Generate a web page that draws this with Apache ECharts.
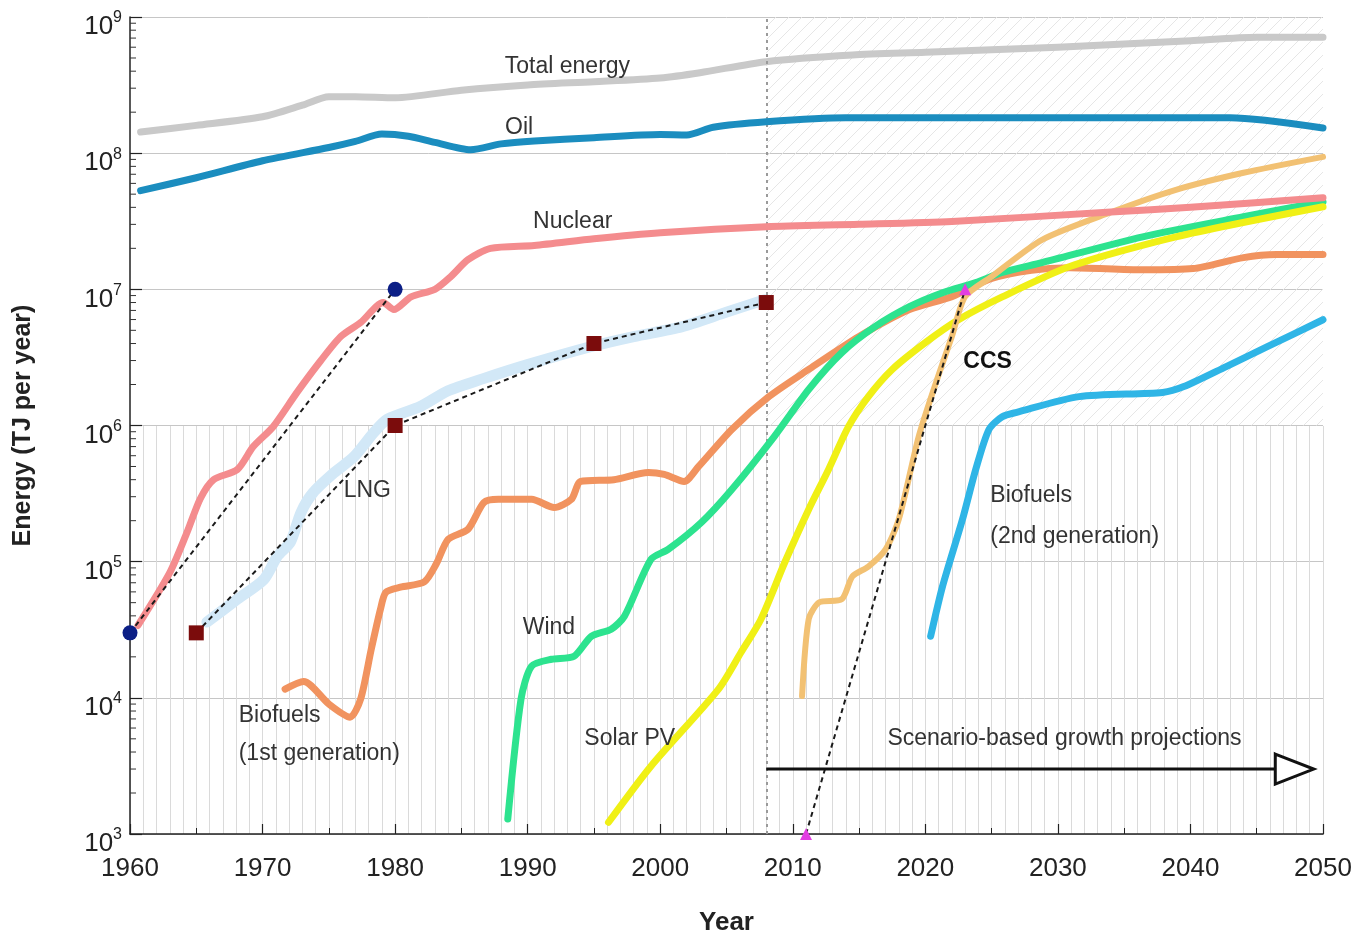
<!DOCTYPE html>
<html>
<head>
<meta charset="utf-8">
<script src="https://cdn.jsdelivr.net/npm/echarts@6/dist/echarts.min.js"></script>
<style>
  html, body { margin: 0; padding: 0; background: #fff; }
  #chart { width: 1355px; height: 941px; }
</style>
</head>
<body>
<div id="chart"></div>
<script>
// ---- Energy supply histories and projections, [year, TJ per year] ----
const totalEnergy = [[1960.8,1.43e8],[1965,1.6e8],[1970,1.85e8],[1973,2.25e8],[1975,2.6e8],[1977,2.6e8],[1980,2.55e8],[1985,2.9e8],[1990,3.17e8],[1995,3.35e8],[2000,3.57e8],[2003,3.9e8],[2008,4.7e8],[2014.5,5.26e8],[2020,5.5e8],[2030,6.0e8],[2040,6.7e8],[2045,7.1e8],[2050,7.1e8]];
const oil = [[1960.8,5.3e7],[1965,6.6e7],[1970,8.8e7],[1975,1.1e8],[1977,1.22e8],[1979,1.38e8],[1981,1.33e8],[1983,1.2e8],[1985.7,1.06e8],[1988,1.17e8],[1990.5,1.23e8],[1995,1.3e8],[2000,1.37e8],[2002,1.36e8],[2004,1.55e8],[2008,1.7e8],[2014,1.82e8],[2043,1.82e8],[2050,1.53e8]];
const nuclear = [[1960.6,3.4e4],[1963,8.3e4],[1964.3,1.64e5],[1965.3,2.9e5],[1966.3,4.0e5],[1968.1,4.75e5],[1969.3,7.0e5],[1970.8,9.8e5],[1972.6,1.75e6],[1974.4,3.0e6],[1975.9,4.5e6],[1977.4,5.7e6],[1979.1,8.0e6],[1979.9,7.1e6],[1981.2,8.8e6],[1983,1.0e7],[1984.2,1.24e7],[1985.5,1.65e7],[1987.2,2.0e7],[1990.5,2.1e7],[1995,2.35e7],[2000,2.6e7],[2008,2.88e7],[2015,3.0e7],[2022,3.15e7],[2034,3.7e7],[2040,4.0e7],[2050,4.7e7]];
const lng = [[1965.8,3.6e4],[1968.1,5.3e4],[1970.1,7.4e4],[1971.1,1.09e5],[1972.1,1.39e5],[1972.9,2.3e5],[1973.8,3.2e5],[1975.4,4.5e5],[1976.9,5.9e5],[1978.4,8.9e5],[1979.4,1.11e6],[1981.9,1.38e6],[1984,1.8e6],[1986.6,2.2e6],[1990,2.8e6],[1994.8,3.8e6],[1998,4.5e6],[2001.6,5.3e6],[2005,6.8e6],[2007.9,8.4e6]];
const biofuels1 = [[1971.7,1.16e4],[1973.1,1.32e4],[1975,9.0e3],[1976.6,7.2e3],[1977.4,9.8e3],[1978.2,2.27e4],[1978.9,4.5e4],[1979.3,5.96e4],[1980.4,6.5e4],[1982.2,7.1e4],[1983.1,9.6e4],[1984,1.46e5],[1985.5,1.73e5],[1986.7,2.72e5],[1987.8,2.87e5],[1990.3,2.87e5],[1992,2.5e5],[1993.3,2.87e5],[1994,3.88e5],[1996.5,4.0e5],[1999.1,4.52e5],[2000.3,4.37e5],[2001.8,3.88e5],[2002.9,5.0e5],[2005.4,9.35e5],[2008.2,1.63e6],[2011.2,2.58e6],[2015,4.5e6],[2018.8,7.1e6],[2022,8.84e6],[2025,1.2e7],[2028,1.38e7],[2030.9,1.44e7],[2036.4,1.39e7],[2040.2,1.42e7],[2044,1.71e7],[2046.5,1.8e7],[2050,1.8e7]];
const wind = [[1988.5,1.29e3],[1989.5,9.8e3],[1990.3,1.71e4],[1991.8,1.92e4],[1993.5,2.02e4],[1994.8,2.83e4],[1996.3,3.19e4],[1997.3,3.97e4],[1999.3,1.04e5],[2000.6,1.23e5],[2003.1,1.94e5],[2005.4,3.39e5],[2008.6,8.3e5],[2011.2,1.84e6],[2013.7,3.43e6],[2016.2,5.32e6],[2018.8,7.46e6],[2021.3,9.45e6],[2023.8,1.12e7],[2025.8,1.33e7],[2028.8,1.57e7],[2036.4,2.43e7],[2044,3.41e7],[2050,4.4e7]];
const solarPV = [[1996.1,1.22e3],[1999.3,3.15e3],[2004.4,1.16e4],[2006.1,2.16e4],[2007.6,3.78e4],[2009.4,9.9e4],[2011.2,2.42e5],[2012.7,4.76e5],[2014.2,9.8e5],[2015.7,1.63e6],[2017.5,2.58e6],[2020,4.06e6],[2022.5,5.98e6],[2025.8,8.8e6],[2030.9,1.47e7],[2038.9,2.43e7],[2050,4.04e7]];
const ccs = [[2010.7,1.03e4],[2011.2,3.78e4],[2012,5.03e4],[2013.7,5.3e4],[2014.5,7.8e4],[2015.7,9.2e4],[2017,1.23e5],[2018,2.05e5],[2019.5,8.3e5],[2020.7,1.93e6],[2022,4.5e6],[2023,8.84e6],[2025,1.24e7],[2028.8,2.31e7],[2033.9,3.65e7],[2038.9,5.38e7],[2044,7.18e7],[2050,9.4e7]];
const biofuels2 = [[2020.4,2.83e4],[2021.3,6.6e4],[2022.8,2.04e5],[2023.8,4.75e5],[2024.8,9.35e5],[2025.8,1.16e6],[2026.9,1.25e6],[2031.6,1.63e6],[2037.9,1.75e6],[2039.5,1.93e6],[2042.7,2.71e6],[2045.8,3.79e6],[2050,5.98e6]];

// ---- Growth-rate guide lines through reference points ----
const nuclearTrend = [[1960,3e4],[1980,1e7]];
const lngTrend = [[1965,3e4],[1980,1e6],[1995,4e6],[2008,8e6]];
const ccsTrend = [[2011,1e3],[2023,1e7]];

// ---- Axis ranges ----
const yearMin = 1960, yearMax = 2050, yearStep = 10;
const energyMin = 1e3, energyMax = 1e9;
const projectionStart = 2008;

const FONT = '"Liberation Sans", Arial, Helvetica, sans-serif';

// log-axis minor ticks (2..9 of each decade) on the left frame
const minorTickValues = [];
for (let d = 3; d < 9; d++) {
  for (let k = 2; k <= 9; k++) minorTickValues.push([yearMin, k * Math.pow(10, d)]);
}

// diagonal hatch tile for the projection region
const hatch = document.createElement('canvas');
hatch.width = 13; hatch.height = 13;
(function () {
  const c = hatch.getContext('2d');
  c.strokeStyle = '#e6e6e6';
  c.lineWidth = 1;
  c.beginPath();
  c.moveTo(-1, 14); c.lineTo(14, -1);
  c.moveTo(-2, 2); c.lineTo(2, -2);
  c.moveTo(11, 15); c.lineTo(15, 11);
  c.stroke();
})();

function curve(name, data, color, width, z) {
  return {
    name, type: 'line', data, z,
    xAxisIndex: 0, yAxisIndex: 0,
    showSymbol: false, smooth: 0.25,
    lineStyle: { color, width, cap: 'round', join: 'round' },
    silent: true
  };
}
function trend(name, data, symbol, color, size) {
  return {
    name, type: 'line', data, z: 20,
    xAxisIndex: 0, yAxisIndex: 0,
    symbol, symbolSize: size, showSymbol: true, clip: false,
    itemStyle: { color },
    lineStyle: { color: '#1a1a1a', width: 2, type: [5, 4] },
    silent: true
  };
}

const chart = echarts.init(document.getElementById('chart'), null, { renderer: 'canvas' });

chart.setOption({
  animation: false,
  backgroundColor: '#ffffff',
  grid: [
    { left: 130, right: 32, top: 17, bottom: 106 },
    { left: 130, right: 32, top: 426, bottom: 106 }
  ],
  xAxis: [
    {
      gridIndex: 0, type: 'value', min: yearMin, max: yearMax, interval: yearStep,
      axisLine: { lineStyle: { color: '#222', width: 1.5 } },
      axisTick: { inside: true, length: 10, lineStyle: { color: '#222', width: 1.2 } },
      minorTick: { show: true, splitNumber: 2, length: 6, lineStyle: { color: '#222', width: 1 } },
      splitLine: { show: false },
      axisLabel: { fontSize: 26, color: '#222', margin: 22, fontFamily: FONT, formatter: v => String(v) },
      name: 'Year', nameLocation: 'middle', nameGap: 76,
      nameTextStyle: { fontSize: 26, fontWeight: 'bold', color: '#222', fontFamily: FONT }
    },
    {
      gridIndex: 1, type: 'value', min: yearMin, max: yearMax, interval: 1,
      axisLine: { show: false }, axisTick: { show: false }, axisLabel: { show: false },
      splitLine: { show: true, lineStyle: { color: '#dadada', width: 1 } }
    }
  ],
  yAxis: [
    {
      gridIndex: 0, type: 'log', logBase: 10, min: energyMin, max: energyMax, splitNumber: 6,
      axisLine: { show: true, lineStyle: { color: '#222', width: 1.5 } },
      axisTick: { inside: true, length: 12, lineStyle: { color: '#222', width: 1.2 } },
      splitLine: { show: true, lineStyle: { color: '#c6c6c6', width: 1 } },
      axisLabel: {
        margin: 8, verticalAlign: 'middle', padding: [16, 0, 0, 0],
        formatter: v => '{b|10}{s|' + Math.round(Math.log10(v)) + '}',
        rich: {
          b: { fontSize: 26, color: '#222', fontFamily: FONT, verticalAlign: 'bottom', lineHeight: 30 },
          s: { fontSize: 16, color: '#222', fontFamily: FONT, verticalAlign: 'top', lineHeight: 30 }
        }
      },
      name: 'Energy (TJ per year)', nameLocation: 'middle', nameGap: 94, nameRotate: 90,
      nameTextStyle: { fontSize: 25, fontWeight: 'bold', color: '#222', fontFamily: FONT }
    },
    { gridIndex: 1, type: 'value', min: 0, max: 1, show: false, splitLine: { show: false } }
  ],
  series: [
    {
      name: 'projection-zone', type: 'line', data: [], z: 1,
      xAxisIndex: 0, yAxisIndex: 0, silent: true,
      markArea: {
        silent: true,
        itemStyle: { color: { image: hatch, repeat: 'repeat' } },
        data: [[{ xAxis: projectionStart, yAxis: 1e6 }, { xAxis: yearMax, yAxis: energyMax }]]
      }
    },
    {
      name: 'log-minor-ticks', type: 'custom', data: minorTickValues, z: 5,
      xAxisIndex: 0, yAxisIndex: 0, clip: false, silent: true,
      renderItem: (params, api) => {
        const p = api.coord([api.value(0), api.value(1)]);
        return { type: 'line', shape: { x1: p[0], y1: p[1], x2: p[0] + 6, y2: p[1] },
                 style: { stroke: '#333', lineWidth: 1 } };
      }
    },
    curve('LNG', lng, '#d2e8f7', 11, 3),
    curve('Total energy', totalEnergy, '#c9c9c9', 7, 4),
    curve('Oil', oil, '#1b8dbf', 7, 5),
    curve('Biofuels (1st generation)', biofuels1, '#f1935f', 7, 6),
    curve('Wind', wind, '#2de38f', 7, 7),
    curve('Solar PV', solarPV, '#f0f016', 7, 8),
    curve('CCS', ccs, '#f2c173', 6, 9),
    curve('Nuclear', nuclear, '#f48c8e', 7, 10),
    curve('Biofuels (2nd generation)', biofuels2, '#2fb5e6', 7, 11),
    trend('Nuclear growth', nuclearTrend, 'circle', '#0c1f86', 15),
    trend('LNG growth', lngTrend, 'rect', '#7b0c0c', 15),
    trend('CCS growth', ccsTrend, 'triangle', '#e23ee2', 12),
    {
      name: 'projection-start', type: 'line', data: [], z: 25,
      xAxisIndex: 0, yAxisIndex: 0, silent: true,
      markLine: {
        silent: true, symbol: 'none', label: { show: false },
        lineStyle: { color: '#9a9a9a', width: 2, type: [3, 4] },
        data: [{ xAxis: projectionStart }]
      }
    }
  ]
});

// ---- Text annotations anchored in data space ----
const notes = [
  { t: 'Total energy', at: [1993.0, 4.3e8], align: 'center' },
  { t: 'Oil', at: [1989.35, 1.53e8], align: 'center' },
  { t: 'Nuclear', at: [1993.4, 3.13e7], align: 'center' },
  { t: 'LNG', at: [1977.9, 3.3e5], align: 'center' },
  { t: 'Wind', at: [1991.6, 3.3e4], align: 'center' },
  { t: 'Solar PV', at: [1997.7, 4.98e3], align: 'center' },
  { t: 'Biofuels', at: [1968.2, 7.46e3], align: 'left' },
  { t: '(1st generation)', at: [1968.2, 3.87e3], align: 'left' },
  { t: 'Biofuels', at: [2024.9, 3.06e5], align: 'left' },
  { t: '(2nd generation)', at: [2024.9, 1.53e5], align: 'left' },
  { t: 'CCS', at: [2024.7, 2.95e6], align: 'center', bold: true },
  { t: 'Scenario-based growth projections', at: [2030.5, 4.98e3], align: 'center' }
];

const px = v => chart.convertToPixel({ gridIndex: 0 }, v);
const graphics = notes.map(n => {
  const p = px(n.at);
  return {
    type: 'text', x: p[0], y: p[1], z: 30, silent: true,
    style: {
      text: n.t, fill: n.bold ? '#111' : '#333',
      fontSize: 23, fontWeight: n.bold ? 'bold' : 'normal', fontFamily: FONT,
      align: n.align, verticalAlign: 'middle'
    }
  };
});

// projection arrow
const a0 = px([projectionStart, 3e3]);
const a1 = px([2046.4, 3e3]);
const tip = px([2049.3, 3e3]);
graphics.push({
  type: 'line', z: 30, silent: true,
  shape: { x1: a0[0], y1: a0[1], x2: a1[0], y2: a1[1] },
  style: { stroke: '#111', lineWidth: 3 }
});
graphics.push({
  type: 'polygon', z: 31, silent: true,
  shape: { points: [[a1[0], a1[1] - 15], [tip[0], tip[1]], [a1[0], a1[1] + 15]] },
  style: { fill: '#ffffff', stroke: '#111', lineWidth: 3, lineJoin: 'miter' }
});

chart.setOption({ graphic: graphics });
</script>
</body>
</html>
